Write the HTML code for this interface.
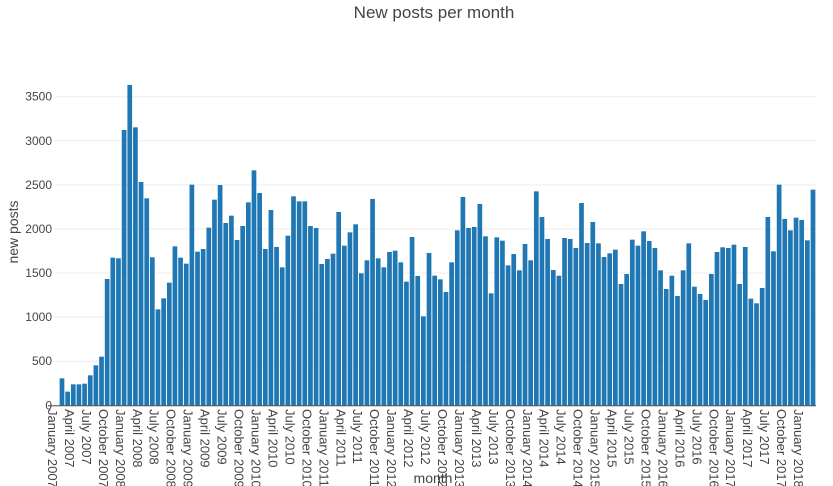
<!DOCTYPE html>
<html><head><meta charset="utf-8"><style>
html,body{margin:0;padding:0;background:#fff;}
svg{display:block;font-family:"Liberation Sans",sans-serif;}
</style></head><body>
<svg id="s" width="833" height="486" viewBox="0 0 833 486" xmlns="http://www.w3.org/2000/svg">
<text x="434" y="18" font-size="17" fill="#444" text-anchor="middle">New posts per month</text>
<text transform="translate(18,232) rotate(-90)" font-size="14" fill="#444" text-anchor="middle">new posts</text>
<text x="433" y="483" font-size="14" fill="#444" text-anchor="middle">month</text>
<g id="grid"></g><g id="bars"></g><g id="lab"></g>
</svg>
<script>
(function(){
var ns="http://www.w3.org/2000/svg",s=document.getElementById('s');
function el(t,a,p,txt){var e=document.createElementNS(ns,t);for(var k in a)e.setAttribute(k,a[k]);if(txt!=null)e.textContent=txt;(p||s).appendChild(e);return e;}
var base=405.3,sc=308.6/3500,G=document.getElementById('grid'),B=document.getElementById('bars'),L=document.getElementById('lab');
for(var v=500;v<=3500;v+=500){var y=base-v*sc;el('line',{x1:54,x2:816,y1:y,y2:y,stroke:'#eee','stroke-width':1},G);}
for(var v2=0;v2<=3500;v2+=500){el('text',{x:52,y:base-v2*sc+4,'font-size':12,fill:'#444','text-anchor':'end'},G,String(v2));}
var z=[895,935,913,913,911,886,856,830,597,533,535,150,15,142,306,355,532,688,655,608,499,533,551,314,515,507,443,359,315,429,407,480,438,367,271,339,507,390,501,562,467,349,364,364,
438,444,552,537,521,396,497,457,433,580,541,357,535,562,516,512,547,605,471,588,709,519,587,598,636,547,451,351,444,441,372,469,640,472,482,556,522,571,492,541,334,411,477,570,587,474,
477,504,369,489,426,490,531,520,509,612,582,479,497,454,483,504,571,627,587,648,571,490,620,642,660,582,516,502,504,494,612,501,656,670,624,411,514,314,417,451,413,420,481,329];
var n=z.length,step=(813-62)/(n-1);
for(var i=0;i<n;i++){var cx=62+i*step,ty=80+z[i]/3;el('rect',{x:cx-2.35,y:ty,width:4.7,height:base-ty,fill:'#1f77b4'},B);}
el('line',{x1:54,x2:816,y1:base+0.5,y2:base+0.5,stroke:'#444','stroke-width':1},L);
el('line',{x1:48,x2:54,y1:base+0.5,y2:base+0.5,stroke:'#444','stroke-width':1},L);
var M=['January','April','July','October'];
for(var k=0;k<=44;k++){var x=52.5+k*3*5.652,yr=2007+Math.floor(k/4);
el('text',{transform:'translate('+x+',409) rotate(90)','font-size':13,fill:'#444','dominant-baseline':'central'},L,M[k%4]+' '+yr);}
})();
</script>
</body></html>
